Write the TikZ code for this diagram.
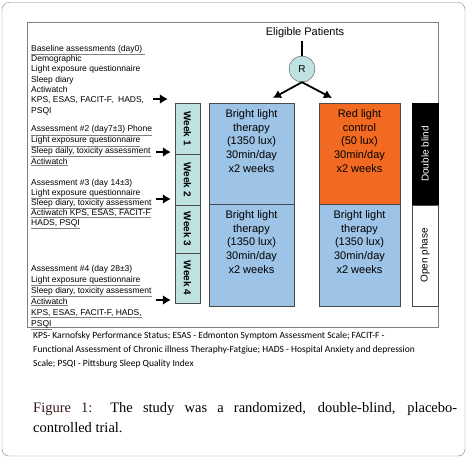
\documentclass[tikz,border=0pt]{standalone}
\usepackage{fontspec}
\setmainfont{Liberation Serif}
\newfontfamily\arialfont{Liberation Sans}
\newfontfamily\notefont{Carlito}
\usepackage{xcolor}
\usetikzlibrary{arrows.meta}
\definecolor{week-cyan}{HTML}{BEE1E1}
\definecolor{light-blue}{HTML}{9DC3E6}
\definecolor{red-orange}{HTML}{F26A21}
\definecolor{frame-grey}{HTML}{808080}
\definecolor{box-edge}{HTML}{4A4A4A}
\definecolor{caption-dark}{HTML}{3A1A1A}
\newcommand{\undl}[1]{{\color{gray}\underline{\color{black}#1}}}

\begin{document}
\begin{tikzpicture}[x=1pt, y=-1pt,
    every node/.style={font=\arialfont},
    wk/.style={draw=box-edge, fill=week-cyan, minimum width=25pt, inner sep=0,
               font=\arialfont\bfseries\fontsize{10}{12}\selectfont},
    tbox/.style={draw=box-edge, inner sep=0},
    ttext/.style={anchor=north, align=center, inner sep=0,
                  font=\arialfont\fontsize{11}{13.7}\selectfont},
    notes/.style={anchor=base west, align=left, inner sep=0},
    arr/.style={line width=2.4pt, -{Latex[length=8pt,width=10pt]}}]
    \useasboundingbox (0,0) rectangle (467,459);
    \draw[frame-grey, rounded corners=7pt] (2,2.5) rectangle (465,456);
    \draw[frame-grey, line width=0.6pt] (27,22.5) rectangle (438,327.5);

    % randomisation
    \node[font=\arialfont\fontsize{11}{13}\selectfont] (elig) at (305,32.5) {Eligible Patients};
    \node[circle, draw=box-edge, fill=week-cyan, minimum size=26pt, inner sep=0,
          font=\arialfont\fontsize{10}{12}\selectfont] (rnd) at (302,69) {R};
    \draw[line width=1.8pt] (elig.south -| rnd) -- (rnd.north);
    \coordinate (lt) at (273,98);
    \coordinate (rt) at (332,98);
    \draw[line width=1.8pt, -{Latex[length=8pt,width=9pt]}] (rnd.south) -- (lt);
    \draw[line width=1.8pt, -{Latex[length=8pt,width=9pt]}] (rnd.south) -- (rt);

    % weeks
    \node[wk, minimum height=51pt] (wk1) at (187.5,128.5) {\rotatebox{-90}{Week 1}};
    \node[wk, minimum height=51pt] (wk2) at (187.5,179.5) {\rotatebox{-90}{Week 2}};
    \node[wk, minimum height=48pt] (wk3) at (187.5,229) {\rotatebox{-90}{Week 3}};
    \node[wk, minimum height=50pt] (wk4) at (187.5,278) {\rotatebox{-90}{Week 4}};

    % arms
    \node[tbox, fill=light-blue, minimum width=85pt, minimum height=101pt] (bl1) at (251.5,153.5) {};
    \node[tbox, fill=light-blue, minimum width=85pt, minimum height=102pt] (bl2) at (251.5,255) {};
    \node[tbox, fill=red-orange, minimum width=81pt, minimum height=101pt] (red) at (359.5,153.5) {};
    \node[tbox, fill=light-blue, minimum width=81pt, minimum height=102pt] (bl3) at (359.5,255) {};
    \node[ttext] (bl1t) at ([yshift=-6.5pt]bl1.north) {Bright light\\therapy\\(1350 lux)\\30min/day\\x2 weeks};
    \node[ttext] (bl2t) at ([yshift=-6.5pt]bl2.north) {Bright light\\therapy\\(1350 lux)\\30min/day\\x2 weeks};
    \node[ttext] (redt) at ([yshift=-6.5pt]red.north) {Red light\\control\\(50 lux)\\30min/day\\x2 weeks};
    \node[ttext] (bl3t) at ([yshift=-6.5pt]bl3.north) {Bright light\\therapy\\(1350 lux)\\30min/day\\x2 weeks};

    % phases
    \node[fill=black, draw=black, minimum width=26pt, minimum height=102pt, inner sep=0,
          text=white, font=\arialfont\fontsize{10}{12}\selectfont] (dbl) at (425,154) {\rotatebox{90}{Double blind}};
    \node[tbox, fill=white, minimum width=26pt, minimum height=101pt,
          font=\arialfont\fontsize{10}{12}\selectfont] (open) at (425,255.5) {\rotatebox{90}{Open phase}};

    % assessments (anchored at the baseline of the last line)
    \node[notes, font=\arialfont\fontsize{8.5}{10.33}\selectfont] (base) at (31,113)
          {\undl{Baseline assessments (day0) }\\Demographic\\Light exposure questionnaire\\Sleep diary\\Actiwatch\\KPS, ESAS, FACIT-F,\ \ HADS,\\PSQI};
    \node[notes, font=\arialfont\fontsize{8.5}{10.67}\selectfont] (as2) at (31,164)
          {\undl{Assessment \#2 (day7±3) Phone}\\\undl{Light exposure questionnaire}\\\undl{Sleep daily, toxicity assessment}\\\undl{Actiwatch}};
    \node[notes, font=\arialfont\fontsize{8.5}{10}\selectfont] (as3) at (31,225)
          {Assessment \#3 (day 14±3)\\\undl{Light exposure questionnaire}\\\undl{Sleep diary, toxicity assessment}\\\undl{Actiwatch KPS, ESAS, FACIT-F}\\\undl{HADS, PSQI}};
    \node[notes, font=\arialfont\fontsize{8.5}{11}\selectfont] (as4) at (31,326)
          {Assessment \#4 (day 28±3)\\\undl{Light exposure questionnaire}\\\undl{Sleep diary, toxicity assessment}\\\undl{Actiwatch}\\\undl{KPS, ESAS, FACIT-F, HADS,}\\\undl{PSQI}};
    \coordinate (a1) at (153,99);
    \coordinate (a2) at (156,152);
    \coordinate (a3) at (156,199);
    \coordinate (a4) at (156,300);
    \draw[arr, shorten >=7pt] (a1) -- (a1 -| wk1.west);
    \draw[arr, shorten >=4pt] (a2) -- (a2 -| wk2.west);
    \draw[arr, shorten >=4pt] (a3) -- (a3 -| wk3.west);
    \draw[arr, shorten >=4pt] (a4) -- (a4 -| wk4.west);

    % abbreviations and caption
    \node[notes, font=\notefont\fontsize{9.5}{13.7}\selectfont] (abbr) at (33,366)
          {KPS- Karnofsky Performance Status; ESAS - Edmonton Symptom Assessment Scale; FACIT-F -\\
           Functional Assessment of Chronic illness Theraphy-Fatgiue; HADS - Hospital Anxiety and depression\\
           Scale; PSQI - Pittsburg Sleep Quality Index};
    \node[anchor=north west, text width=424pt, align=justify, inner sep=0,
          font=\rmfamily\fontsize{14.5}{20}\selectfont] (cap) at (33,402)
          {{\color{caption-dark}Figure 1:} The study was a randomized, double-blind, placebo-\linebreak controlled trial.};
\end{tikzpicture}
\end{document}
